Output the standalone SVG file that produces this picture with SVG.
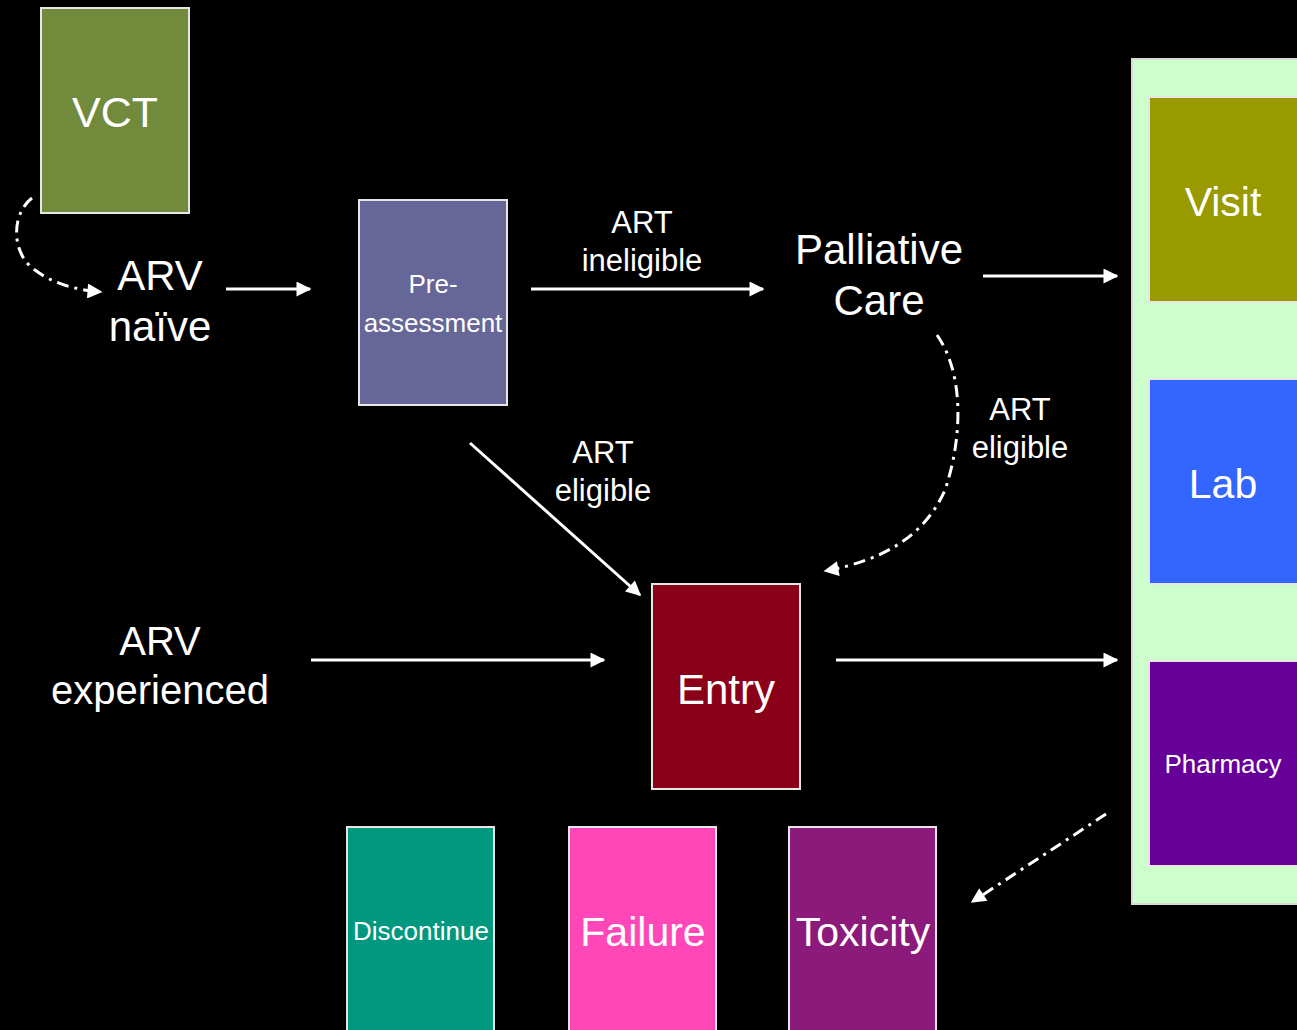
<svg xmlns="http://www.w3.org/2000/svg" width="1297" height="1030" viewBox="0 0 1297 1030">
<style>
text{font-family:"Liberation Sans",Arial,sans-serif;fill:#fff;text-anchor:middle}
.box{stroke:#e6e6e6;stroke-width:2}
.ln{stroke:#fff;stroke-width:3;fill:none}
.dd{stroke:#fff;stroke-width:3;fill:none;stroke-dasharray:12 6 3 6}
</style>
<defs>
<marker id="ah" viewBox="0 0 10 10" refX="9" refY="5" markerWidth="5.5" markerHeight="5" markerUnits="strokeWidth" orient="auto">
<path d="M0,0 L10,5 L0,10 Z" fill="#fff"/>
</marker>
</defs>
<rect width="1297" height="1030" fill="#000"/>
<g id="panel"><rect x="1132" y="59" width="180" height="845" fill="#ccffcc" stroke="#d9d9d9" stroke-width="2"/></g>
<g id="vct"><rect class="box" x="41" y="8" width="148" height="205" fill="#728a3c"/><text x="115" y="127" font-size="43">VCT</text></g>
<g id="arv-naive"><text x="160" y="290" font-size="42">ARV</text><text x="160" y="341" font-size="42">naïve</text></g>
<g id="pre"><rect class="box" x="359" y="200" width="148" height="205" fill="#666699"/><text x="433" y="293" font-size="26">Pre-</text><text x="433" y="332" font-size="26">assessment</text></g>
<g id="lbl-inel"><text x="642" y="233" font-size="31">ART</text><text x="642" y="271" font-size="31">ineligible</text></g>
<g id="palliative"><text x="879" y="264" font-size="42">Palliative</text><text x="879" y="315" font-size="42">Care</text></g>
<g id="lbl-el2"><text x="1020" y="420" font-size="31">ART</text><text x="1020" y="458" font-size="31">eligible</text></g>
<g id="lbl-el1"><text x="603" y="463" font-size="31">ART</text><text x="603" y="501" font-size="31">eligible</text></g>
<g id="arv-exp"><text x="160" y="655" font-size="40">ARV</text><text x="160" y="704" font-size="40">experienced</text></g>
<g id="entry"><rect class="box" x="652" y="584" width="148" height="205" fill="#8b0019"/><text x="726" y="704" font-size="42">Entry</text></g>
<g id="visit"><rect class="box" x="1149" y="97" width="160" height="205" fill="#999900"/><text x="1223" y="216" font-size="41">Visit</text></g>
<g id="lab"><rect class="box" x="1149" y="379" width="160" height="205" fill="#3366ff"/><text x="1223" y="498" font-size="41">Lab</text></g>
<g id="pharmacy"><rect class="box" x="1149" y="661" width="160" height="205" fill="#660099"/><text x="1223" y="773" font-size="26">Pharmacy</text></g>
<g id="discontinue"><rect class="box" x="347" y="827" width="147" height="215" fill="#009980"/><text x="421" y="940" font-size="26">Discontinue</text></g>
<g id="failure"><rect class="box" x="569" y="827" width="147" height="215" fill="#ff47b8"/><text x="643" y="946" font-size="41">Failure</text></g>
<g id="toxicity"><rect class="box" x="789" y="827" width="147" height="215" fill="#8b1a7a"/><text x="863" y="946" font-size="41">Toxicity</text></g>
<g id="connectors">
<line class="ln" x1="226" y1="289" x2="310" y2="289" marker-end="url(#ah)"/>
<line class="ln" x1="531" y1="289" x2="763" y2="289" marker-end="url(#ah)"/>
<line class="ln" x1="983" y1="276" x2="1117" y2="276" marker-end="url(#ah)"/>
<line class="ln" x1="470" y1="443" x2="640" y2="595" marker-end="url(#ah)"/>
<line class="ln" x1="311" y1="660" x2="604" y2="660" marker-end="url(#ah)"/>
<line class="ln" x1="836" y1="660" x2="1117" y2="660" marker-end="url(#ah)"/>
<path class="dd" d="M32,198 C10,215 12,255 35,270 C52,283 75,290 101,292" marker-end="url(#ah)"/>
<path class="dd" d="M937,335 C965,375 962,440 945,490 C925,535 885,560 825,571" marker-end="url(#ah)"/>
<path class="dd" d="M1106,814 L972,902" marker-end="url(#ah)"/>
</g>
</svg>
